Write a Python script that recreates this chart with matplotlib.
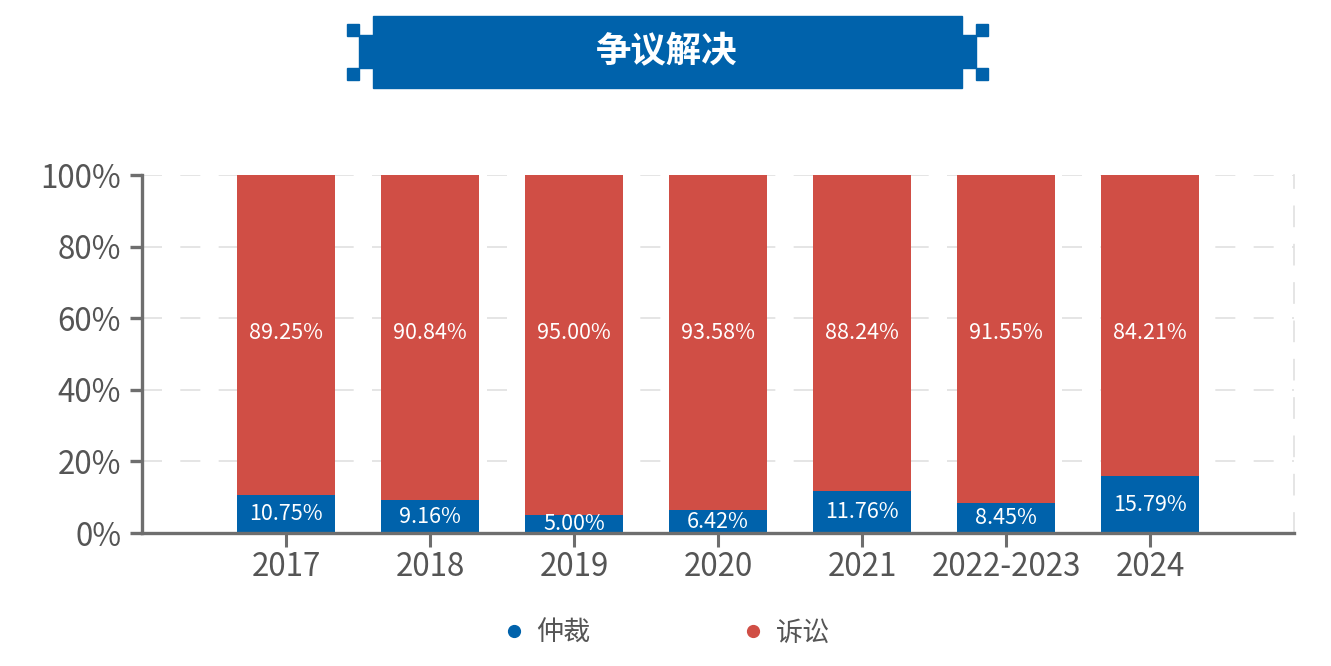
import matplotlib
matplotlib.use("Agg")
import matplotlib.pyplot as plt
from matplotlib.patches import Rectangle
from matplotlib.lines import Line2D
from matplotlib.ticker import FuncFormatter

plt.rcParams['font.family'] = ['Noto Sans CJK SC', 'DejaVu Sans']

# ---- data ----
title = "争议解决"
categories = ["2017", "2018", "2019", "2020", "2021", "2022-2023", "2024"]
arbitration = [10.75, 9.16, 5.00, 6.42, 11.76, 8.45, 15.79]   # 仲裁
litigation = [89.25, 90.84, 95.00, 93.58, 88.24, 91.55, 84.21]  # 诉讼
series_names = ["仲裁", "诉讼"]
yticks = [0, 20, 40, 60, 80, 100]

BLUE = "#0062AB"
RED = "#D04E45"
GRAY = "#6e6e6e"
TXT = "#555555"

W, H = 1331, 666
fig = plt.figure(figsize=(W / 100, H / 100), dpi=100)


def fx(px):
    return px / W


def fy(py):
    return 1 - py / H


ax = fig.add_axes([fx(142), fy(533), fx(1294) - fx(142), fy(175) - fy(533)])

x = list(range(len(categories)))
b1 = ax.bar(x, arbitration, width=0.68, color=BLUE, zorder=3)
b2 = ax.bar(x, litigation, bottom=arbitration, width=0.68, color=RED, zorder=3)

lab_kw = dict(color='white', fontsize=15.5, fontweight='light')
ax.bar_label(b1, labels=[f"{v:.2f}%" for v in arbitration], label_type='center', **lab_kw)
# litigation labels sit at a common height inside the red segment
for xi, v in zip(x, litigation):
    ax.text(xi, 56, f"{v:.2f}%", ha='center', va='center', zorder=5, **lab_kw)

ax.set_xlim(-1, len(categories))
ax.set_ylim(0, 100)
ax.set_xticks(x)
ax.set_xticklabels(categories)
ax.set_yticks(yticks)
ax.yaxis.set_major_formatter(FuncFormatter(lambda v, p: f"{v:.0f}%"))

ax.grid(axis='y', color='#e0e0e0', linewidth=1.2, linestyle=(0, (12, 11)), zorder=0)
ax.set_axisbelow(True)

ax.spines['top'].set_visible(False)
ax.spines['right'].set_color('#e0e0e0')
ax.spines['right'].set_linewidth(1.2)
ax.spines['right'].set_linestyle((0, (12, 11)))
for s in ['left', 'bottom']:
    ax.spines[s].set_color(GRAY)
    ax.spines[s].set_linewidth(2.4)
    ax.spines[s].set_zorder(4)

ax.tick_params(axis='y', length=9, width=2.4, color=GRAY, labelcolor=TXT,
               labelsize=22.5, pad=6)
ax.tick_params(axis='x', length=10, width=2.2, color=GRAY, labelcolor=TXT,
               labelsize=22.5, pad=3)
for lab in ax.get_xticklabels() + ax.get_yticklabels():
    lab.set_fontweight('medium')

# ---- title banner ----
def prect(x0, y0, x1, y1):
    fig.patches.append(Rectangle((fx(x0), fy(y1)), fx(x1) - fx(x0), fy(y0) - fy(y1),
                                 transform=fig.transFigure, color=BLUE, zorder=0))

prect(373, 16, 962, 88)
prect(359, 35, 373, 68)
prect(962, 35, 976, 68)
prect(347, 24, 359, 36)
prect(347, 68, 359, 80)
prect(976, 24, 988, 36)
prect(976, 68, 988, 80)
fig.text(fx(667), fy(52), title, color='white', fontsize=25.5, fontweight='heavy',
         ha='center', va='center')

# ---- legend ----
handles = [Line2D([], [], marker='o', linestyle='none', markersize=8.5,
                  markerfacecolor=c, markeredgecolor=c) for c in (BLUE, RED)]
leg = fig.legend(handles, series_names, loc='center', bbox_to_anchor=(fx(668), fy(633)),
                 ncol=2, frameon=False, fontsize=19.5, handlelength=0.6,
                 handletextpad=0.55, columnspacing=5.7, labelcolor=TXT)
for t in leg.get_texts():
    t.set_fontweight('medium')

fig.savefig("out.png", dpi=100)
